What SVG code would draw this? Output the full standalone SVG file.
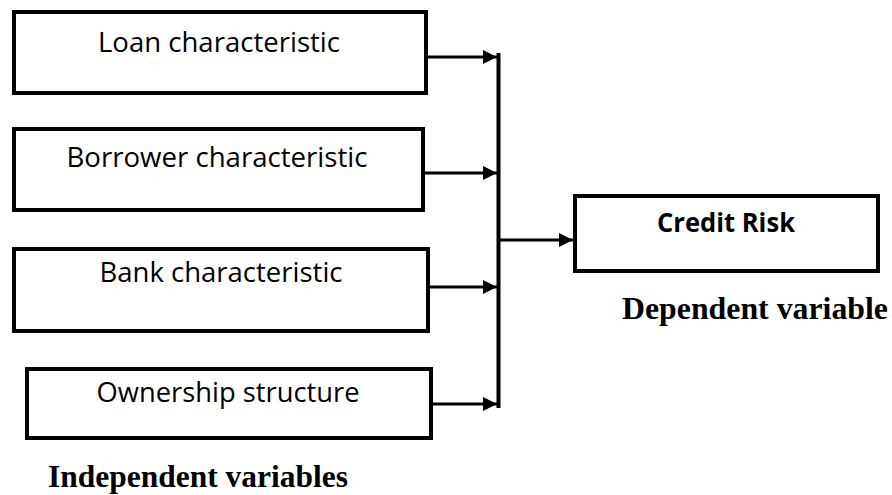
<svg xmlns="http://www.w3.org/2000/svg" width="892" height="495" viewBox="0 0 892 495">
<style>
.box{fill:#fff;stroke:#000;stroke-width:4}
.lbl{font-family:"Open Sans","Liberation Sans",sans-serif;font-size:27px;fill:#000;text-anchor:middle}
.bold{font-weight:bold}
.cap{font-family:"Liberation Serif","Times New Roman",serif;font-size:31.5px;font-weight:bold;fill:#000}
.ln{stroke:#000;stroke-width:3;fill:none}
.bar{stroke:#000;stroke-width:4;fill:none}
</style>
<defs>
<marker id="ah" markerUnits="userSpaceOnUse" markerWidth="14" markerHeight="14" refX="14" refY="7" orient="auto">
<path d="M0,0 L14,7 L0,14 Z" fill="#000"/>
</marker>
</defs>
<rect width="892" height="495" fill="#fff"/>
<g id="loan"><rect class="box" x="14" y="12" width="412" height="81"/><text class="lbl" x="219" y="52" textLength="242" lengthAdjust="spacingAndGlyphs">Loan characteristic</text></g>
<g id="borrower"><rect class="box" x="14" y="129" width="409" height="81"/><text class="lbl" x="217" y="167" textLength="301" lengthAdjust="spacingAndGlyphs">Borrower characteristic</text></g>
<g id="bank"><rect class="box" x="14" y="249" width="414" height="82"/><text class="lbl" x="221" y="282" textLength="243" lengthAdjust="spacingAndGlyphs">Bank characteristic</text></g>
<g id="ownership"><rect class="box" x="27" y="369" width="404" height="69"/><text class="lbl" x="228" y="402" textLength="263" lengthAdjust="spacingAndGlyphs">Ownership structure</text></g>
<g id="credit"><rect class="box" x="575" y="196" width="303" height="75"/><text class="lbl bold" x="726" y="232" textLength="138" lengthAdjust="spacingAndGlyphs">Credit Risk</text></g>
<g id="connectors">
<line class="bar" x1="498.5" y1="53" x2="498.5" y2="408"/>
<line class="ln" x1="428" y1="57" x2="497" y2="57" marker-end="url(#ah)"/>
<line class="ln" x1="425" y1="173" x2="497" y2="173" marker-end="url(#ah)"/>
<line class="ln" x1="430" y1="287" x2="497" y2="287" marker-end="url(#ah)"/>
<line class="ln" x1="433" y1="404" x2="497" y2="404" marker-end="url(#ah)"/>
<line class="ln" x1="500" y1="240" x2="573" y2="240" marker-end="url(#ah)"/>
</g>
<text class="cap" x="48" y="487" textLength="300" lengthAdjust="spacingAndGlyphs">Independent variables</text>
<text class="cap" x="622" y="319" textLength="266" lengthAdjust="spacingAndGlyphs">Dependent variable</text>
</svg>
